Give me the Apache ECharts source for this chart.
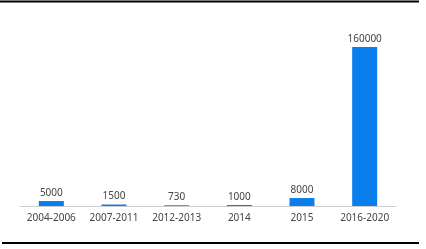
<!DOCTYPE html>
<html><head><meta charset="utf-8">
<script src="https://cdn.jsdelivr.net/npm/echarts@6/dist/echarts.min.js"></script>
<style>html,body{margin:0;padding:0;background:#fff;}#c{width:426px;height:249px;}</style>
</head><body><div id="c"></div>
<script>
var categories = ['2004-2006','2007-2011','2012-2013','2014','2015','2016-2020'];
var values = [5000,1500,730,1000,8000,160000];
var chart = echarts.init(document.getElementById('c'), null, {renderer:'canvas'});
chart.setOption({
  animation:false,
  grid:{left:20,right:30,top:47,bottom:43},
  xAxis:{type:'category',data:categories,
    axisLine:{lineStyle:{color:'#ccc'}},axisTick:{show:false},
    axisLabel:{color:'#444',fontSize:10,fontFamily:'Noto Sans',margin:7,interval:0}},
  yAxis:{type:'value',min:0,max:160000,show:false,splitLine:{show:false}},
  series:[{type:'bar',data:values,barWidth:25,itemStyle:{color:'#0a7eea'},
    label:{show:true,position:'top',color:'#444',fontSize:10,fontFamily:'Noto Sans',distance:3}}],
  graphic:[
    {type:'line',shape:{x1:0,y1:1.5,x2:419,y2:1.5},style:{stroke:'#000',lineWidth:2}},
    {type:'line',shape:{x1:2,y1:243,x2:419,y2:243},style:{stroke:'#000',lineWidth:2}}
  ]
});
</script></body></html>
